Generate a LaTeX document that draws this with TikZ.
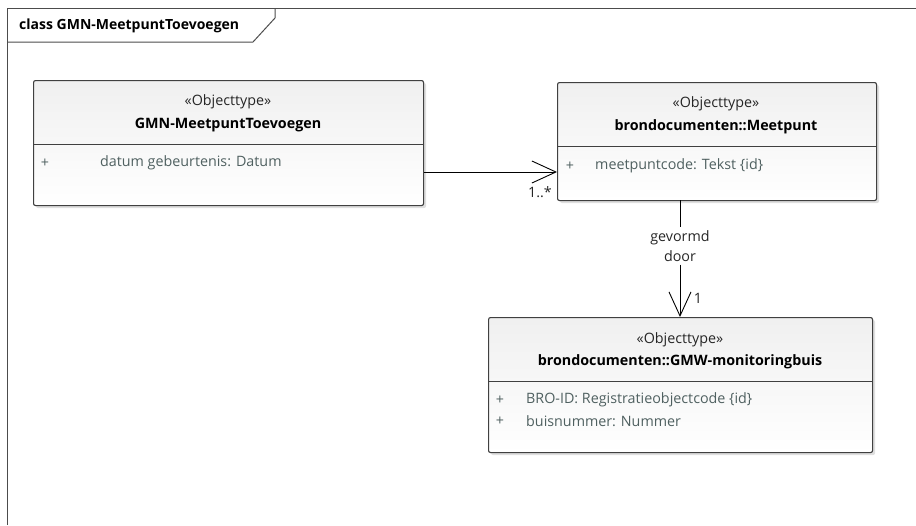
\documentclass[tikz,border=0pt]{standalone}
\usepackage{fontspec}
\setmainfont{Open Sans}
\usetikzlibrary{arrows.meta,shadows,calc}
\definecolor{attrcol}{HTML}{4F6060}
\definecolor{linecol}{HTML}{404040}
\tikzset{
  umlbox/.style={draw=linecol, line width=1.1pt, rounded corners=2pt,
    top color=gray!12, bottom color=white, anchor=north west,
    drop shadow={shadow xshift=2.5pt, shadow yshift=-2.5pt, opacity=0.25, fill=gray},
    inner sep=0pt},
  divider/.style={draw=linecol, line width=0.9pt},
  stereo/.style={font=\fontsize{14.3}{18}\selectfont, text=black!85, inner sep=0pt},
  cname/.style={font=\fontsize{14.3}{18}\selectfont\bfseries, text=black, inner sep=0pt},
  attr/.style={font=\fontsize{14.3}{18}\selectfont, text=attrcol, anchor=west, inner sep=0pt},
  plus/.style={font=\fontsize{14.3}{18}\selectfont, text=attrcol, inner sep=0pt},
  assoc/.style={draw=black, line width=0.9pt, -{Straight Barb[length=24pt,width=22pt,line width=0.9pt]}},
  lbl/.style={font=\fontsize{14.3}{18}\selectfont, text=black!85, inner sep=0pt},
  framel/.style={draw=black!70, line width=1pt},
}
\begin{document}
\begin{tikzpicture}[x=1pt,y=-1pt]
\useasboundingbox (0,0) rectangle (916,525);
% frame
\draw[framel] (7,525) -- (7,8) -- (916,8);
\draw[framel] (7,42) -- (253,42) -- (275,18) -- (275,8);
\node[font=\fontsize{14}{16}\selectfont\bfseries, anchor=west, inner sep=0pt] (title) at (19,26) {class GMN-MeetpuntToevoegen};

% box 1
\node[umlbox, minimum width=390pt, minimum height=125pt] (b1) at (33,80) {};
\draw[divider] (33,144) -- (423,144);
\node[stereo] (b1s) at (228,102) {«Objecttype»};
\node[cname] (b1n) at (228,125) {GMN-MeetpuntToevoegen};
\node[plus] (b1p) at (45,163) {+};
\node[attr] (b1a) at (100,163) {datum gebeurtenis: Datum};

% box 2
\node[umlbox, minimum width=319pt, minimum height=118pt] (b2) at (557,82) {};
\draw[divider] (557,146) -- (876,146);
\node[stereo] (b2s) at (716,104) {«Objecttype»};
\node[cname] (b2n) at (716,127) {brondocumenten::Meetpunt};
\node[plus] (b2p) at (570,166) {+};
\node[attr] (b2a) at (595,166) {meetpuntcode: Tekst \{id\}};

% box 3
\node[umlbox, minimum width=384pt, minimum height=135pt] (b3) at (488,317) {};
\draw[divider] (488,381) -- (872,381);
\node[stereo] (b3s) at (680,340) {«Objecttype»};
\node[cname] (b3n) at (680,362) {brondocumenten::GMW-monitoringbuis};
\node[plus] (b3p) at (500,400) {+};
\node[attr] (b3a) at (526,400) {BRO-ID: Registratieobjectcode \{id\}};
\node[plus] (b3q) at (500,421) {+};
\node[attr] (b3b) at (526,421) {buisnummer: Nummer};

% connectors
\draw[assoc] (b1.east |- 0,172) -- (b2.west |- 0,172);
\node[lbl] (m1) at (540,192) {1..*};

\coordinate (c2) at (680,200);
\node[lbl, inner sep=3pt, align=center] (g) at (680,246) {gevormd\\[2pt]door};
\draw[draw=black, line width=0.9pt] (c2) -- (g.north);
\draw[assoc] (g.south) -- (b3.north -| c2);
\node[lbl] (m2) at (698,298) {1};
\end{tikzpicture}
\end{document}
